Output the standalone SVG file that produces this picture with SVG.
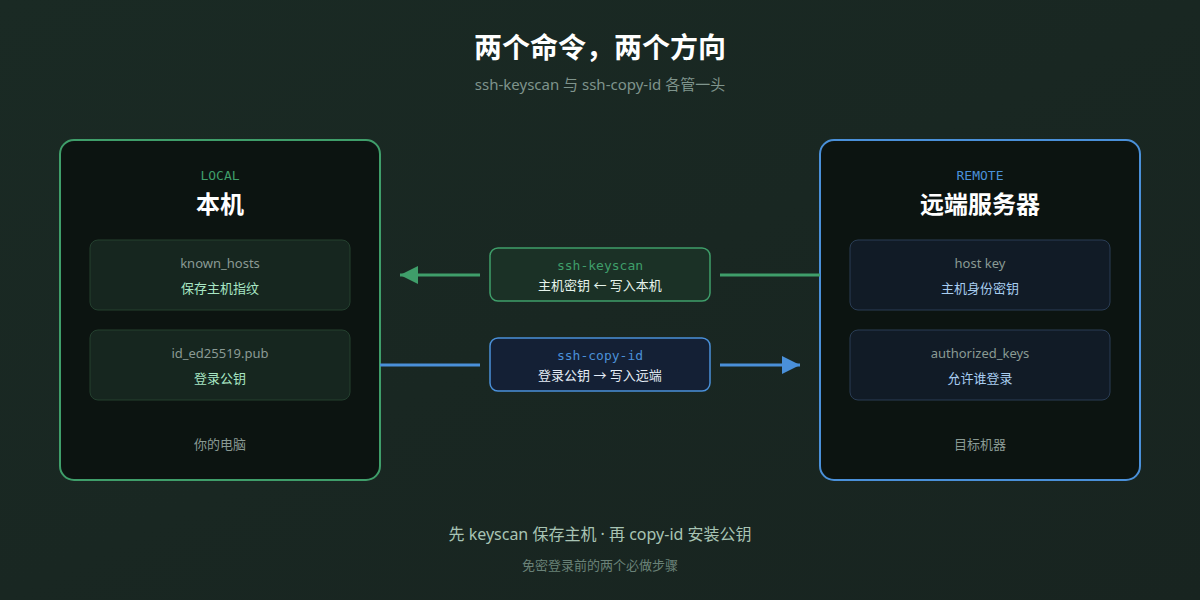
<svg xmlns="http://www.w3.org/2000/svg" width="1200" height="600" viewBox="0 0 1200 600">
<defs>
<linearGradient id="bg" x1="0" y1="0" x2="1" y2="1"><stop offset="0" stop-color="#1a2a24"/><stop offset="1" stop-color="#182420"/></linearGradient>
<marker id="ag" viewBox="0 0 10 10" refX="10" refY="5" markerWidth="20" markerHeight="18" markerUnits="userSpaceOnUse" orient="auto"><path d="M0,0L10,5L0,10z" fill="#3f9e6a"/></marker>
<marker id="ab" viewBox="0 0 10 10" refX="10" refY="5" markerWidth="20" markerHeight="18" markerUnits="userSpaceOnUse" orient="auto"><path d="M0,0L10,5L0,10z" fill="#4a90d9"/></marker>
<style>
text{font-family:"Noto Sans","Noto Sans CJK SC",sans-serif;text-anchor:middle}
.mono{font-family:"DejaVu Sans Mono","Liberation Mono",monospace;font-size:13px}
.t{fill:#ffffff;font-weight:bold}
.lbl{font-size:13px;fill:#8a9a94}
.sub{font-size:13px}
</style>
</defs>
<rect width="1200" height="600" fill="url(#bg)"/>
<text x="600" y="58" class="t" font-size="28">两个命令，两个方向</text>
<text x="600" y="90" font-size="15" fill="#7f948c">ssh-keyscan 与 ssh-copy-id 各管一头</text>
<g id="local">
<rect x="60" y="140" width="320" height="340" rx="14" fill="#0c1411" stroke="#3f9e6a" stroke-width="2"/>
<text x="220" y="180" class="mono" font-size="14" fill="#3f9e6a">LOCAL</text>
<text x="220" y="213" class="t" font-size="24">本机</text>
<rect x="90" y="240" width="260" height="70" rx="8" fill="#16261f" stroke="#24402f"/>
<text x="220" y="268" class="lbl">known_hosts</text>
<text x="220" y="293" class="sub" fill="#a8e6c4">保存主机指纹</text>
<rect x="90" y="330" width="260" height="70" rx="8" fill="#16261f" stroke="#24402f"/>
<text x="220" y="358" class="lbl">id_ed25519.pub</text>
<text x="220" y="383" class="sub" fill="#a8e6c4">登录公钥</text>
<text x="220" y="449" class="lbl" fill="#5a7f6c">你的电脑</text>
</g>
<g id="remote">
<rect x="820" y="140" width="320" height="340" rx="14" fill="#0c1411" stroke="#4a90d9" stroke-width="2"/>
<text x="980" y="180" class="mono" font-size="14" fill="#4a90d9">REMOTE</text>
<text x="980" y="213" class="t" font-size="24">远端服务器</text>
<rect x="850" y="240" width="260" height="70" rx="8" fill="#111b26" stroke="#2a3d55"/>
<text x="980" y="268" class="lbl">host key</text>
<text x="980" y="293" class="sub" fill="#a8cdf0">主机身份密钥</text>
<rect x="850" y="330" width="260" height="70" rx="8" fill="#111b26" stroke="#2a3d55"/>
<text x="980" y="358" class="lbl">authorized_keys</text>
<text x="980" y="383" class="sub" fill="#a8cdf0">允许谁登录</text>
<text x="980" y="449" class="lbl" fill="#5a7080">目标机器</text>
</g>
<g id="connectors">
<line x1="820" y1="275" x2="720" y2="275" stroke="#3f9e6a" stroke-width="3"/>
<line x1="480" y1="275" x2="400" y2="275" stroke="#3f9e6a" stroke-width="3" marker-end="url(#ag)"/>
<line x1="380" y1="365" x2="480" y2="365" stroke="#4a90d9" stroke-width="3"/>
<line x1="720" y1="365" x2="800" y2="365" stroke="#4a90d9" stroke-width="3" marker-end="url(#ab)"/>
</g>
<g id="keyscan">
<rect x="490" y="248" width="220" height="53" rx="8" fill="#1b3126" stroke="#3f9e6a" stroke-width="1.5"/>
<text x="600" y="270" class="mono" fill="#3f9e6a">ssh-keyscan</text>
<text x="600" y="290" class="sub" fill="#e6f4ec">主机密钥 ← 写入本机</text>
</g>
<g id="copyid">
<rect x="490" y="338" width="220" height="53" rx="8" fill="#142035" stroke="#4a90d9" stroke-width="1.5"/>
<text x="600" y="360" class="mono" fill="#4a90d9">ssh-copy-id</text>
<text x="600" y="380" class="sub" fill="#e6eef8">登录公钥 → 写入远端</text>
</g>
<text x="600" y="540" font-size="16" fill="#a8c4b4">先 keyscan 保存主机 · 再 copy-id 安装公钥</text>
<text x="600" y="570" font-size="13" fill="#6a8278">免密登录前的两个必做步骤</text>
</svg>
